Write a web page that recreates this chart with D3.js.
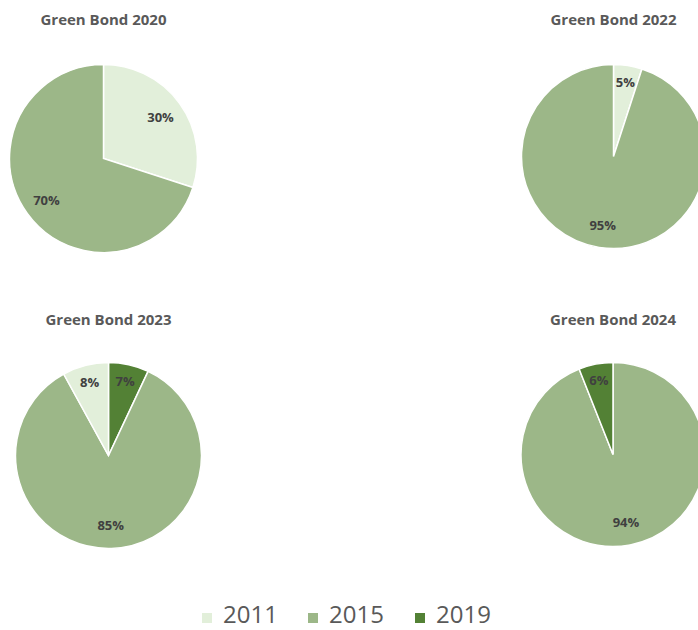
<!DOCTYPE html>
<html>
<head>
<meta charset="utf-8">
<script src="https://cdn.jsdelivr.net/npm/d3@7"></script>
<style>
  html, body { margin: 0; padding: 0; background: #ffffff; }
  svg { display: block; }
</style>
</head>
<body>
<svg id="chart" width="698" height="630"></svg>
<script>
// ---- data ----
const categories = ["2011", "2015", "2019"];
const chartTitles = ["Green Bond 2020", "Green Bond 2022", "Green Bond 2023", "Green Bond 2024"];
// slice values per chart (percent), in drawing order (clockwise from 12 o'clock)
const slices2020 = [{cat: "2011", value: 30}, {cat: "2015", value: 70}];
const slices2022 = [{cat: "2011", value: 5}, {cat: "2015", value: 95}];
const slices2023 = [{cat: "2019", value: 7}, {cat: "2015", value: 85}, {cat: "2011", value: 8}];
const slices2024 = [{cat: "2015", value: 94}, {cat: "2019", value: 6}];
const colors = ["#e2efda", "#9cb788", "#538135"];

const allSlices = [slices2020, slices2022, slices2023, slices2024];

// ---- layout ----
const svg = d3.select("#chart");
const color = d3.scaleOrdinal().domain(categories).range(colors);
const centers = [
  {cx: 103.5, cy: 158.5, r: 94, ty: 25},
  {cx: 613.5, cy: 156.5, r: 92, ty: 25},
  {cx: 108.5, cy: 455.5, r: 93, ty: 325},
  {cx: 613, cy: 454.5, r: 92, ty: 325}
];

const pie = d3.pie().sort(null).value(d => d.value);

allSlices.forEach((data, i) => {
  const c = centers[i];
  const arc = d3.arc().innerRadius(0).outerRadius(c.r);
  const g = svg.append("g").attr("transform", `translate(${c.cx},${c.cy})`);
  const arcs = pie(data);
  g.selectAll("path").data(arcs).join("path")
    .attr("d", arc)
    .attr("fill", d => color(d.data.cat))
    .attr("stroke", "#ffffff")
    .attr("stroke-width", 1.5);
  g.selectAll("text").data(arcs).join("text")
    .attr("transform", d => {
      const k = d.data.value < 10 ? 0.82 : 0.75;
      const la = d3.arc().innerRadius(c.r * k).outerRadius(c.r * k);
      return `translate(${la.centroid(d)})`;
    })
    .attr("text-anchor", "middle")
    .attr("dominant-baseline", "central")
    .attr("font-family", "'Open Sans', sans-serif")
    .attr("font-weight", "bold")
    .attr("font-size", 13)
    .attr("fill", "#404040")
    .text(d => d.data.value + "%");
  svg.append("text")
    .attr("x", c.cx)
    .attr("y", c.ty)
    .attr("text-anchor", "middle")
    .attr("font-family", "'Open Sans', sans-serif")
    .attr("font-weight", "bold")
    .attr("font-size", 15)
    .attr("fill", "#595959")
    .text(chartTitles[i]);
});

// ---- legend ----
const legendX = [202, 308, 415];
const legend = svg.append("g");
categories.forEach((cat, i) => {
  legend.append("rect")
    .attr("x", legendX[i]).attr("y", 613)
    .attr("width", 10).attr("height", 10)
    .attr("fill", color(cat));
  legend.append("text")
    .attr("x", legendX[i] + 21).attr("y", 623)
    .attr("font-family", "'Open Sans', sans-serif")
    .attr("font-size", 24)
    .attr("fill", "#595959")
    .text(cat);
});
</script>
</body>
</html>
